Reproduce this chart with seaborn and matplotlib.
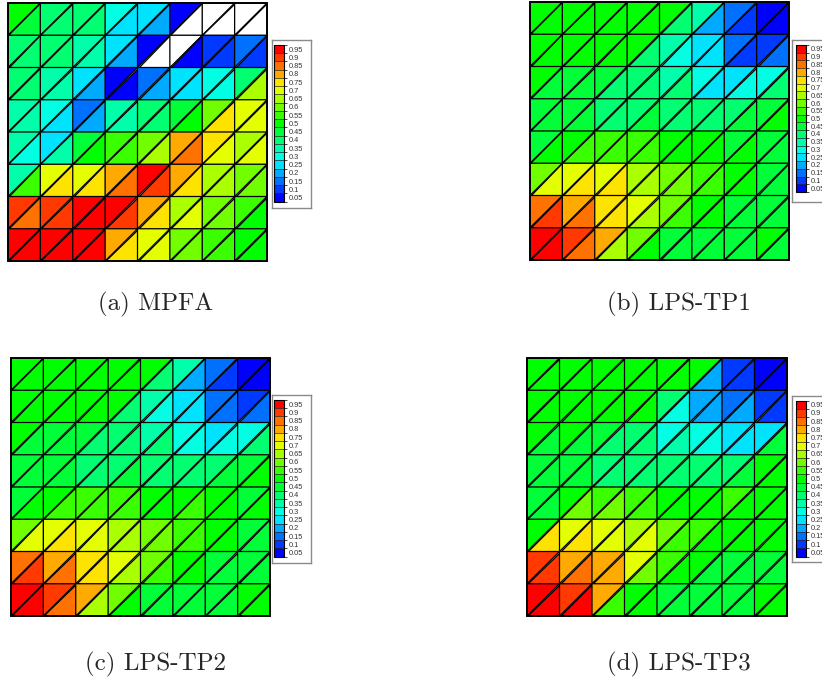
import numpy as np
import matplotlib
matplotlib.use("Agg")
import matplotlib.pyplot as plt
import matplotlib.tri as mtri
from matplotlib.colors import ListedColormap, BoundaryNorm, hsv_to_rgb
import matplotlib.cm as cm
from matplotlib.patches import Rectangle
import seaborn as sns

sns.set_style("white")

# ---------------- data ----------------
levels = [0.05, 0.1, 0.15, 0.2, 0.25, 0.3, 0.35, 0.4, 0.45, 0.5,
          0.55, 0.6, 0.65, 0.7, 0.75, 0.8, 0.85, 0.9, 0.95]
tick_labels = ["0.05", "0.1", "0.15", "0.2", "0.25", "0.3", "0.35", "0.4", "0.45", "0.5",
               "0.55", "0.6", "0.65", "0.7", "0.75", "0.8", "0.85", "0.9", "0.95"]
captions = ["(a) MPFA", "(b) LPS-TP1", "(c) LPS-TP2", "(d) LPS-TP3"]
W = -0.1  # out of range value (shown white)

# rows top -> bottom, columns left -> right; UL = upper-left triangle, LR = lower-right triangle
mpfa_ul = [
    [0.50, 0.40, 0.40, 0.30, 0.25, 0.05, W, W],
    [0.40, 0.40, 0.35, 0.25, 0.05, W, 0.10, 0.15],
    [0.40, 0.35, 0.25, 0.05, 0.15, 0.25, 0.30, 0.40],
    [0.35, 0.30, 0.15, 0.35, 0.40, 0.45, 0.60, 0.70],
    [0.35, 0.25, 0.45, 0.55, 0.60, 0.80, 0.75, 0.65],
    [0.35, 0.70, 0.70, 0.80, 0.95, 0.80, 0.65, 0.60],
    [0.90, 0.90, 0.95, 0.95, 0.80, 0.65, 0.60, 0.55],
    [0.95, 0.95, 0.95, 0.80, 0.70, 0.60, 0.55, 0.50],
]
mpfa_lr = [
    [0.45, 0.40, 0.40, 0.25, 0.20, W, W, W],
    [0.40, 0.40, 0.35, 0.20, W, 0.05, 0.10, 0.10],
    [0.40, 0.35, 0.20, 0.05, 0.20, 0.25, 0.30, 0.65],
    [0.35, 0.25, 0.20, 0.35, 0.40, 0.50, 0.75, 0.70],
    [0.30, 0.35, 0.50, 0.55, 0.65, 0.85, 0.70, 0.70],
    [0.55, 0.75, 0.75, 0.85, 0.90, 0.75, 0.65, 0.60],
    [0.85, 0.90, 0.95, 0.90, 0.75, 0.70, 0.60, 0.50],
    [0.95, 0.95, 0.95, 0.75, 0.70, 0.60, 0.55, 0.50],
]
tp1_ul = [
    [0.50, 0.50, 0.50, 0.50, 0.50, 0.35, 0.15, 0.05],
    [0.50, 0.50, 0.50, 0.50, 0.35, 0.25, 0.15, 0.10],
    [0.50, 0.45, 0.45, 0.40, 0.35, 0.30, 0.25, 0.30],
    [0.45, 0.45, 0.40, 0.40, 0.40, 0.40, 0.40, 0.45],
    [0.45, 0.50, 0.55, 0.55, 0.50, 0.50, 0.45, 0.45],
    [0.60, 0.70, 0.70, 0.65, 0.60, 0.55, 0.50, 0.45],
    [0.85, 0.80, 0.75, 0.70, 0.60, 0.50, 0.45, 0.45],
    [0.95, 0.90, 0.80, 0.60, 0.45, 0.45, 0.45, 0.50],
]
tp1_lr = [
    [0.50, 0.50, 0.50, 0.50, 0.40, 0.20, 0.10, 0.05],
    [0.50, 0.50, 0.50, 0.40, 0.30, 0.25, 0.10, 0.15],
    [0.45, 0.45, 0.40, 0.40, 0.40, 0.25, 0.30, 0.40],
    [0.45, 0.45, 0.40, 0.45, 0.40, 0.40, 0.45, 0.50],
    [0.50, 0.55, 0.55, 0.55, 0.50, 0.50, 0.50, 0.45],
    [0.70, 0.75, 0.75, 0.65, 0.60, 0.55, 0.50, 0.45],
    [0.90, 0.85, 0.75, 0.65, 0.55, 0.50, 0.45, 0.45],
    [0.95, 0.85, 0.65, 0.50, 0.45, 0.45, 0.45, 0.45],
]
tp2_ul = [
    [0.50, 0.50, 0.50, 0.50, 0.50, 0.35, 0.15, 0.05],
    [0.50, 0.50, 0.50, 0.50, 0.35, 0.25, 0.15, 0.10],
    [0.50, 0.45, 0.45, 0.40, 0.35, 0.30, 0.25, 0.30],
    [0.45, 0.45, 0.40, 0.40, 0.40, 0.40, 0.40, 0.45],
    [0.45, 0.50, 0.55, 0.55, 0.50, 0.50, 0.50, 0.45],
    [0.60, 0.70, 0.70, 0.65, 0.60, 0.55, 0.50, 0.45],
    [0.85, 0.80, 0.75, 0.70, 0.60, 0.50, 0.45, 0.45],
    [0.95, 0.90, 0.80, 0.60, 0.45, 0.45, 0.45, 0.50],
]
tp2_lr = [
    [0.50, 0.50, 0.50, 0.50, 0.40, 0.20, 0.10, 0.05],
    [0.50, 0.50, 0.50, 0.40, 0.30, 0.25, 0.15, 0.15],
    [0.45, 0.45, 0.40, 0.40, 0.40, 0.30, 0.30, 0.40],
    [0.45, 0.45, 0.40, 0.45, 0.40, 0.40, 0.45, 0.50],
    [0.50, 0.55, 0.55, 0.55, 0.50, 0.55, 0.50, 0.50],
    [0.70, 0.75, 0.70, 0.65, 0.60, 0.55, 0.50, 0.45],
    [0.90, 0.85, 0.75, 0.65, 0.55, 0.50, 0.45, 0.45],
    [0.95, 0.85, 0.65, 0.50, 0.45, 0.45, 0.45, 0.50],
]
tp3_ul = [
    [0.50, 0.50, 0.50, 0.50, 0.50, 0.50, 0.10, 0.05],
    [0.50, 0.50, 0.50, 0.50, 0.40, 0.20, 0.15, 0.10],
    [0.50, 0.50, 0.45, 0.40, 0.30, 0.30, 0.25, 0.25],
    [0.45, 0.45, 0.40, 0.40, 0.40, 0.40, 0.40, 0.50],
    [0.45, 0.50, 0.55, 0.55, 0.50, 0.50, 0.55, 0.50],
    [0.50, 0.70, 0.70, 0.65, 0.60, 0.55, 0.50, 0.50],
    [0.90, 0.80, 0.80, 0.70, 0.55, 0.50, 0.45, 0.45],
    [0.95, 0.90, 0.80, 0.50, 0.45, 0.45, 0.45, 0.50],
]
tp3_lr = [
    [0.50, 0.50, 0.50, 0.50, 0.50, 0.20, 0.10, 0.05],
    [0.50, 0.50, 0.50, 0.50, 0.30, 0.20, 0.20, 0.10],
    [0.45, 0.45, 0.40, 0.40, 0.35, 0.30, 0.25, 0.45],
    [0.45, 0.45, 0.40, 0.40, 0.40, 0.40, 0.45, 0.50],
    [0.45, 0.60, 0.60, 0.55, 0.50, 0.50, 0.50, 0.50],
    [0.75, 0.75, 0.70, 0.70, 0.55, 0.50, 0.50, 0.50],
    [0.90, 0.85, 0.80, 0.60, 0.50, 0.45, 0.45, 0.45],
    [0.95, 0.95, 0.55, 0.50, 0.45, 0.45, 0.45, 0.50],
]

panels_ul = [mpfa_ul, tp1_ul, tp2_ul, tp3_ul]
panels_lr = [mpfa_lr, tp1_lr, tp2_lr, tp3_lr]

# ---------------- colour map ----------------
n = len(levels)
hues = [(240.0 * (n - 1 - k) / (n - 1)) / 360.0 for k in range(n)]
cols = [hsv_to_rgb((h, 1.0, 1.0)) for h in hues]
cmap = ListedColormap(cols).with_extremes(under="white", over=cols[-1])
bounds = np.concatenate([[levels[0] - 0.025], np.array(levels) + 0.025])
norm = BoundaryNorm(bounds, n)

# ---------------- mesh ----------------
N = 8
xs, ys = np.meshgrid(np.arange(N + 1), np.arange(N + 1))
px = xs.ravel().astype(float)
py = ys.ravel().astype(float)

def vid(i, j):  # i: x index, j: y index
    return j * (N + 1) + i

tris = []
order = []  # (row, col, kind)
for r in range(N):
    jb = N - 1 - r
    for c in range(N):
        bl, br, tr, tl = vid(c, jb), vid(c + 1, jb), vid(c + 1, jb + 1), vid(c, jb + 1)
        tris.append([bl, tr, tl]); order.append((r, c, 0))
        tris.append([bl, br, tr]); order.append((r, c, 1))
triang = mtri.Triangulation(px, py, np.array(tris))

# ---------------- layout (pixels) ----------------
FW, FH = 822, 677
fig = plt.figure(figsize=(FW / 100, FH / 100), dpi=100)
fig.patch.set_facecolor("white")

def fr(x0, y0, w, h):
    return [x0 / FW, 1 - (y0 + h) / FH, w / FW, h / FH]

grid_pos = [(8, 3, 259, 258), (530, 2, 259, 258), (11, 358, 259, 258), (527, 358, 260, 258)]
box_pos = [(272, 40, 39, 168), (792, 40, 40, 162), (272, 395, 39, 168), (792, 396, 40, 166)]
strip_pos = [(273.5, 45, 10, 156.7), (796, 45, 10, 147), (273.5, 400, 10, 156.7), (796, 400.5, 10, 156)]
cap_pos = [(156, 310), (679, 310), (155, 670), (679, 670)]

for p in range(4):
    ul = np.array(panels_ul[p])
    lr = np.array(panels_lr[p])
    vals = np.array([ul[r, c] if k == 0 else lr[r, c] for (r, c, k) in order])

    ax = fig.add_axes(fr(*grid_pos[p]))
    ax.tripcolor(triang, facecolors=vals, cmap=cmap, norm=norm,
                 edgecolors="black", linewidth=0.9)
    ax.set_xlim(0, N)
    ax.set_ylim(0, N)
    ax.set_axis_off()
    ax.add_patch(Rectangle((0, 0), N, N, fill=False, edgecolor="black", lw=1.4, clip_on=False))

    # white legend box behind the colour bar
    bx, by, bw, bh = box_pos[p]
    box_ax = fig.add_axes(fr(bx, by, bw, bh), zorder=1)
    box_ax.set_xticks([]); box_ax.set_yticks([])
    box_ax.set_facecolor("white")
    for s in box_ax.spines.values():
        s.set_edgecolor("#8a8a8a"); s.set_linewidth(1.0)

    cax = fig.add_axes(fr(*strip_pos[p]), zorder=2)
    sm = cm.ScalarMappable(norm=norm, cmap=cmap)
    cb = fig.colorbar(sm, cax=cax, ticks=levels, drawedges=True)
    cb.ax.set_yticklabels(tick_labels)
    cb.ax.tick_params(length=0, pad=3.5, labelsize=5.3, colors="#333333")
    cb.outline.set_linewidth(0.8)
    cb.outline.set_edgecolor("black")
    cb.dividers.set_linewidth(0.5)
    for t in cb.ax.get_yticklabels():
        t.set_family(["Liberation Sans", "DejaVu Sans"])

    cx, cy = cap_pos[p]
    fig.text(cx / FW, 1 - cy / FH, captions[p], ha="center", va="baseline",
             fontsize=18, family=["cmr10", "DejaVu Serif"])

fig.savefig("out.png", dpi=100, facecolor="white")
